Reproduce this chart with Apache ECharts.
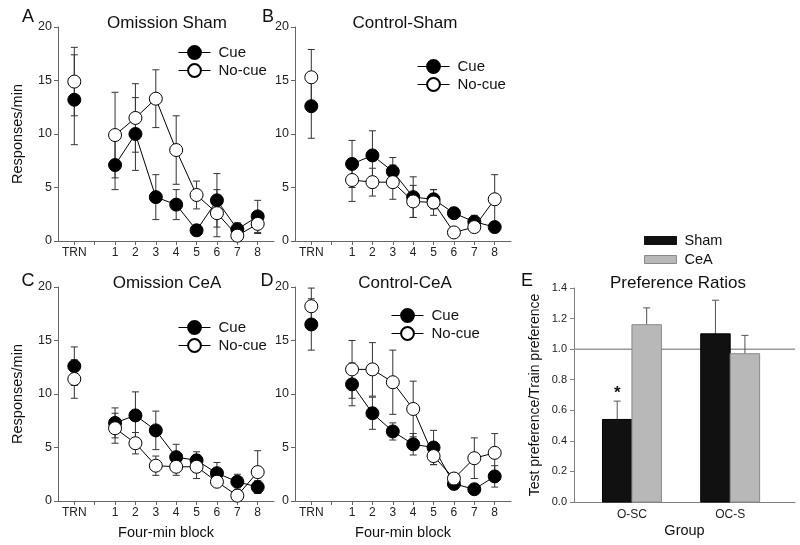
<!DOCTYPE html>
<html><head><meta charset="utf-8">
<script src="https://cdn.jsdelivr.net/npm/echarts@6/dist/echarts.min.js"></script>
<style>html,body{margin:0;padding:0;background:#fff}#c{width:800px;height:545px}</style>
</head><body><div id="c"></div>
<script>
// ---------- data ----------
const blocks = ['TRN', '1', '2', '3', '4', '5', '6', '7', '8'];

const cueA      = [13.2, 7.1, 10.0, 4.1, 3.4, 1.0, 3.8, 1.1, 2.3];
const cueAErr   = [4.2, 2.3, 3.4, 2.1, 1.4, 0.3, 2.5, 0.6, 1.5];
const nocueA    = [14.9, 9.9, 11.5, 13.3, 8.5, 4.3, 2.6, 0.5, 1.6];
const nocueAErr = [3.2, 4.0, 3.2, 2.7, 3.2, 1.3, 2.2, 0.4, 0.9];

const cueB      = [12.6, 7.2, 8.0, 6.5, 4.1, 3.9, 2.6, 1.8, 1.3];
const cueBErr   = [3.0, 2.2, 2.3, 1.3, 1.9, 0.9, 0.5, 0.6, 0.4];
const nocueB    = [15.3, 5.7, 5.5, 5.5, 3.7, 3.6, 0.8, 1.3, 3.9];
const nocueBErr = [2.6, 2.0, 1.3, 1.6, 1.5, 1.2, 0.3, 0.4, 2.3];

const cueC      = [12.6, 7.3, 8.0, 6.6, 4.1, 3.8, 2.6, 1.8, 1.3];
const cueCErr   = [1.8, 1.4, 2.2, 1.8, 1.2, 0.8, 1.0, 0.7, 0.6];
const nocueC    = [11.4, 6.8, 5.4, 3.3, 3.2, 3.2, 1.8, 0.5, 2.7];
const nocueCErr = [1.8, 1.4, 1.0, 0.9, 0.8, 1.1, 0.3, 0.3, 2.0];

const cueD      = [16.5, 10.9, 8.2, 6.5, 5.3, 5.0, 1.6, 1.1, 2.3];
const cueDErr   = [2.4, 2.0, 1.5, 0.8, 1.0, 1.6, 0.5, 0.2, 1.0];
const nocueD    = [18.2, 12.3, 12.3, 11.1, 8.6, 4.2, 2.1, 4.0, 4.5];
const nocueDErr = [1.7, 2.7, 2.5, 3.0, 2.6, 0.8, 0.5, 1.9, 1.8];

const groups   = ['O-SC', 'OC-S'];
const sham     = [0.54, 1.10];
const shamErr  = [0.12, 0.22];
const cea      = [1.16, 0.97];
const ceaErr   = [0.11, 0.12];
const sigMarks = ['*', ''];
const refLine  = 1.0;

const yTicksResp = [0, 5, 10, 15, 20];
const yTicksPref = [0, 0.2, 0.4, 0.6, 0.8, 1.0, 1.2, 1.4];

// ---------- layout / style ----------
const FONT = '"Liberation Sans", Arial, Helvetica, sans-serif';
const AX = '#666';
const xPos = blocks.map((b, i) => i === 0 ? -1 : i);     // TRN sits one slot before block 1
const tickPos = [-1, 0, 1, 2, 3, 4, 5, 6, 7, 8];
const groupPos = groups.map((g, i) => i + 1);
const BAR_W = 0.3;
const E_MIN = 0.41, E_MAX = 2.66;

const panels = [
  {letter: 'A', title: 'Omission Sham', cue: cueA, cueErr: cueAErr, nocue: nocueA, nocueErr: nocueAErr,
   left: 58, top: 27, leg: [178, 45], lx: 28, ly: 17, tx: 167, ty: 23, yName: true, xName: false},
  {letter: 'B', title: 'Control-Sham', cue: cueB, cueErr: cueBErr, nocue: nocueB, nocueErr: nocueBErr,
   left: 295, top: 27, leg: [417, 59], lx: 268, ly: 17, tx: 405, ty: 23, yName: false, xName: false},
  {letter: 'C', title: 'Omission CeA', cue: cueC, cueErr: cueCErr, nocue: nocueC, nocueErr: nocueCErr,
   left: 58, top: 287, leg: [178, 320], lx: 28, ly: 281, tx: 167, ty: 283, yName: true, xName: true},
  {letter: 'D', title: 'Control-CeA', cue: cueD, cueErr: cueDErr, nocue: nocueD, nocueErr: nocueDErr,
   left: 295, top: 287, leg: [391, 308], lx: 267, ly: 281, tx: 405, ty: 283, yName: false, xName: true}
];

function lineData(vals) {
  const d = [];
  vals.forEach((v, i) => { d.push([xPos[i], v]); if (i === 0) d.push([0, '-']); });
  return d;
}
function errData(vals, errs) { return vals.map((v, i) => [xPos[i], v, errs[i]]); }

function errRender(params, api) {
  const x = api.value(0), v = api.value(1), e = api.value(2);
  const t = api.coord([x, v + e]), b = api.coord([x, v - e]);
  const hw = 3.5, st = {stroke: '#333', lineWidth: 1};
  return {type: 'group', children: [
    {type: 'line', shape: {x1: t[0], y1: t[1], x2: b[0], y2: b[1]}, style: st},
    {type: 'line', shape: {x1: t[0] - hw, y1: t[1], x2: t[0] + hw, y2: t[1]}, style: st},
    {type: 'line', shape: {x1: b[0] - hw, y1: b[1], x2: b[0] + hw, y2: b[1]}, style: st}
  ]};
}

const grid = [], xAxis = [], yAxis = [], series = [], legend = [], graphicEls = [];
const txt = (size, color) => ({fontFamily: FONT, fontSize: size, color: color || '#222'});

panels.forEach((p, i) => {
  grid.push({left: p.left, top: p.top, width: 216, height: 214});
  xAxis.push({
    gridIndex: i, type: 'value', min: -1.8, max: 8.8,
    axisLine: {show: true, onZero: false, lineStyle: {color: AX, width: 1}},
    axisTick: {show: true, length: 4, customValues: tickPos, lineStyle: {color: AX}},
    axisLabel: {customValues: xPos, formatter: v => blocks[xPos.indexOf(v)], margin: 6, ...txt(12)},
    splitLine: {show: false},
    name: p.xName ? 'Four-min block' : '', nameLocation: 'middle', nameGap: 24,
    nameTextStyle: txt(14.5, '#111')
  });
  yAxis.push({
    gridIndex: i, type: 'value', min: 0, max: 20, interval: 5,
    axisLine: {show: true, onZero: false, lineStyle: {color: AX, width: 1}},
    axisTick: {show: true, length: 4, lineStyle: {color: AX}},
    axisLabel: {margin: 6, formatter: v => yTicksResp.includes(v) ? String(v) : '', ...txt(12.5)},
    splitLine: {show: false},
    name: p.yName ? 'Responses/min' : '', nameLocation: 'middle', nameGap: 33,
    nameTextStyle: txt(14.5, '#111')
  });
  series.push({type: 'custom', name: 'err' + i, xAxisIndex: i, yAxisIndex: i, z: 1, silent: true,
    renderItem: errRender, encode: {x: 0, y: 1}, data: errData(p.cue, p.cueErr)});
  series.push({type: 'custom', name: 'errn' + i, xAxisIndex: i, yAxisIndex: i, z: 1, silent: true,
    renderItem: errRender, encode: {x: 0, y: 1}, data: errData(p.nocue, p.nocueErr)});
  series.push({type: 'line', name: 'Cue', xAxisIndex: i, yAxisIndex: i, z: 2,
    symbol: 'circle', symbolSize: 13, showAllSymbol: true, connectNulls: false,
    itemStyle: {color: '#000', borderColor: '#000', borderWidth: 1},
    lineStyle: {color: '#000', width: 1}, data: lineData(p.cue)});
  series.push({type: 'line', name: 'No-cue', xAxisIndex: i, yAxisIndex: i, z: 3,
    symbol: 'circle', symbolSize: 13, showAllSymbol: true, connectNulls: false,
    itemStyle: {color: '#fff', borderColor: '#000', borderWidth: 1},
    lineStyle: {color: '#000', width: 1}, data: lineData(p.nocue)});
  legend.push({
    data: ['Cue', 'No-cue'], orient: 'vertical', left: p.leg[0], top: p.leg[1], padding: 0,
    itemWidth: 32, itemHeight: 16, itemGap: 3, selectedMode: false,
    lineStyle: {width: 1, color: '#000'},
    textStyle: {fontFamily: FONT, fontSize: 15, color: '#111', padding: [0, 0, 0, 3]}
  });
  graphicEls.push({type: 'text', x: p.lx, y: p.ly, style: {text: p.letter, font: '18px ' + FONT, fill: '#111',
    align: 'center', verticalAlign: 'middle', textAlign: 'center', textVerticalAlign: 'middle'}});
  graphicEls.push({type: 'text', x: p.tx, y: p.ty, style: {text: p.title, font: '17px ' + FONT, fill: '#111',
    align: 'center', verticalAlign: 'middle', textAlign: 'center', textVerticalAlign: 'middle'}});
});

// ---------- panel E ----------
const E = 4;
grid.push({left: 574, top: 288, width: 221, height: 214});
xAxis.push({
  gridIndex: E, type: 'value', min: E_MIN, max: E_MAX,
  axisLine: {show: true, onZero: false, lineStyle: {color: '#808080', width: 1}},
  axisTick: {show: false},
  axisLabel: {customValues: groupPos, formatter: v => groups[v - 1], margin: 7, ...txt(12)},
  splitLine: {show: false},
  name: 'Group', nameLocation: 'middle', nameGap: 21, nameTextStyle: txt(14.5, '#111')
});
yAxis.push({
  gridIndex: E, type: 'value', min: 0, max: 1.4, interval: 0.2,
  axisLine: {show: true, onZero: false, lineStyle: {color: '#808080', width: 1}},
  axisTick: {show: true, length: 4, lineStyle: {color: '#808080'}},
  axisLabel: {margin: 7, formatter: v => v.toFixed(1), ...txt(11)},
  splitLine: {show: false},
  name: 'Test preference/Train preference', nameLocation: 'middle', nameGap: 32,
  nameTextStyle: txt(14, '#111')
});

function barRender(offset, fill, stroke) {
  return (params, api) => {
    const x = api.value(0), v = api.value(1);
    const a = api.coord([x + offset - BAR_W / 2, v]);
    const b = api.coord([x + offset + BAR_W / 2, 0]);
    return {type: 'rect', shape: {x: a[0], y: a[1], width: b[0] - a[0], height: b[1] - a[1]},
      style: {fill: fill, stroke: stroke, lineWidth: 1}};
  };
}
function upErrRender(offset) {
  return (params, api) => {
    const x = api.value(0) + offset, v = api.value(1), e = api.value(2);
    const t = api.coord([x, v + e]), b = api.coord([x, v]);
    const st = {stroke: '#555', lineWidth: 1};
    return {type: 'group', children: [
      {type: 'line', shape: {x1: t[0], y1: t[1], x2: b[0], y2: b[1]}, style: st},
      {type: 'line', shape: {x1: t[0] - 3.5, y1: t[1], x2: t[0] + 3.5, y2: t[1]}, style: st}
    ]};
  };
}

series.push({type: 'line', name: 'ref', xAxisIndex: E, yAxisIndex: E, z: 1, silent: true,
  symbol: 'none', lineStyle: {color: '#999', width: 1.5},
  data: [[E_MIN, refLine], [E_MAX, refLine]]});
series.push({type: 'custom', name: 'shamErr', xAxisIndex: E, yAxisIndex: E, z: 2, silent: true,
  renderItem: upErrRender(-BAR_W / 2), encode: {x: 0, y: 1},
  data: groupPos.map((g, i) => [g, sham[i], shamErr[i]])});
series.push({type: 'custom', name: 'ceaErr', xAxisIndex: E, yAxisIndex: E, z: 2, silent: true,
  renderItem: upErrRender(BAR_W / 2), encode: {x: 0, y: 1},
  data: groupPos.map((g, i) => [g, cea[i], ceaErr[i]])});
series.push({type: 'custom', name: 'Sham', xAxisIndex: E, yAxisIndex: E, z: 3,
  itemStyle: {color: '#111'},
  renderItem: barRender(-BAR_W / 2, '#111', '#000'), encode: {x: 0, y: 1},
  data: groupPos.map((g, i) => [g, sham[i]])});
series.push({type: 'custom', name: 'CeA', xAxisIndex: E, yAxisIndex: E, z: 3,
  itemStyle: {color: '#b8b8b8'},
  renderItem: barRender(BAR_W / 2, '#b8b8b8', '#8a8a8a'), encode: {x: 0, y: 1},
  data: groupPos.map((g, i) => [g, cea[i]])});
series.push({type: 'custom', name: 'sig', xAxisIndex: E, yAxisIndex: E, z: 4, silent: true,
  renderItem: (params, api) => {
    const i = params.dataIndex;
    const c = api.coord([api.value(0) - BAR_W / 2, api.value(1)]);
    return {type: 'text', x: c[0], y: c[1] - 8, style: {text: sigMarks[i], font: 'bold 17px ' + FONT, fill: '#111',
      align: 'center', verticalAlign: 'middle', textAlign: 'center', textVerticalAlign: 'middle'}};
  },
  encode: {x: 0, y: 1},
  data: groupPos.map((g, i) => [g, sham[i] + shamErr[i]])});

legend.push({
  data: [
    {name: 'Sham', icon: 'rect', itemStyle: {color: '#111', borderColor: '#111', borderWidth: 1}},
    {name: 'CeA', icon: 'rect', itemStyle: {color: '#b8b8b8', borderColor: '#8a8a8a', borderWidth: 1}}
  ],
  orient: 'vertical', left: 644, top: 233, padding: 0, itemWidth: 32, itemHeight: 8, itemGap: 4,
  selectedMode: false, textStyle: {fontFamily: FONT, fontSize: 14.5, color: '#111', padding: [0, 0, 0, 3]}
});
graphicEls.push({type: 'text', x: 527, y: 281, style: {text: 'E', font: '18px ' + FONT, fill: '#111',
  align: 'center', verticalAlign: 'middle', textAlign: 'center', textVerticalAlign: 'middle'}});
graphicEls.push({type: 'text', x: 678, y: 283, style: {text: 'Preference Ratios', font: '17px ' + FONT, fill: '#111',
  align: 'center', verticalAlign: 'middle', textAlign: 'center', textVerticalAlign: 'middle'}});

const chart = echarts.init(document.getElementById('c'), null, {renderer: 'canvas'});
chart.setOption({
  animation: false,
  backgroundColor: '#fff',
  textStyle: {fontFamily: FONT},
  grid, xAxis, yAxis, series, legend,
  graphic: {elements: graphicEls}
});
</script></body></html>
